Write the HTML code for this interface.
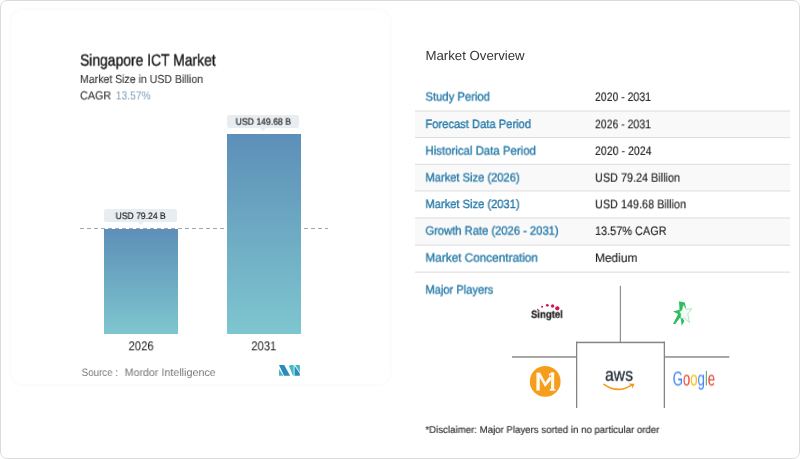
<!DOCTYPE html>
<html>
<head>
<meta charset="utf-8">
<style>
html,body{margin:0;padding:0;}
body{width:800px;height:459px;background:#fff;position:relative;overflow:hidden;font-family:"Liberation Sans",sans-serif;color:#222;}
.frame{position:absolute;left:0;top:0;width:800px;height:459px;box-sizing:border-box;border:1px solid #dbdbdb;border-radius:7px;background:#fff;}
.card{position:absolute;left:11px;top:10px;width:379px;height:374px;border-radius:12px;background:#fff;box-shadow:0 0 4px rgba(0,0,0,0.045);}
.t{position:absolute;white-space:nowrap;line-height:1;transform-origin:0 0;will-change:transform;text-rendering:geometricPrecision;}
.bar{position:absolute;background:linear-gradient(#5d8fb8,#7ec6cf);}
.pill{position:absolute;background:#e7edf1;border-radius:2.5px;}
.pill:after{content:"";position:absolute;left:50%;bottom:-3px;margin-left:-3px;border-left:3px solid transparent;border-right:3px solid transparent;border-top:3px solid #e7edf1;}
.dash{position:absolute;left:80px;top:228px;width:248px;height:1px;background:repeating-linear-gradient(90deg,#98a9b6 0,#98a9b6 4px,transparent 4px,transparent 7px);}
.hl{position:absolute;left:415px;width:375px;height:1px;background:#e0e0e0;}
.st{position:absolute;left:415px;width:375px;background:#f9f9f9;}
.ln{position:absolute;background:#858585;}
</style>
</head>
<body>
<div class="frame"></div>
<div class="card"></div>

<div class="dash"></div>
<div class="bar" style="left:104px;top:229px;width:74px;height:105px;"></div>
<div class="bar" style="left:227px;top:134px;width:74px;height:200px;"></div>
<div class="pill" style="left:104.4px;top:209px;width:72.5px;height:13px;"></div>
<div class="pill" style="left:226.5px;top:114.8px;width:72px;height:13.2px;"></div>

<svg style="position:absolute;left:279px;top:365px;" width="22" height="11" viewBox="0 0 22 11">
<polygon points="0,3.9 0,10.7 4.4,10.7" fill="#45b8c2"/>
<polygon points="0,0 5.2,0 11.1,10.7 5,10.7" fill="#2a8bbd"/>
<polygon points="9.8,0.8 12,0 14.7,0 14.7,10.7 14,10.7" fill="#45bcc0"/>
<polygon points="15.5,0.8 15.5,10.7 20.8,10.7 20.8,8.4" fill="#2a8bbd"/>
<polygon points="16.2,0 20.9,0 20.9,7.4" fill="#45b8c2"/>
</svg>

<div class="st" style="top:111px;height:27px;"></div>
<div class="st" style="top:164px;height:27px;"></div>
<div class="st" style="top:218px;height:27px;"></div>


<svg style="position:absolute;left:0;top:0;" width="800" height="459" viewBox="0 0 800 459">
<g fill="#dfdfdf">
<rect x="415" y="110.5" width="375.3" height="1.1"/>
<rect x="415" y="137.0" width="375.3" height="1.1"/>
<rect x="415" y="163.8" width="375.3" height="1.1"/>
<rect x="415" y="190.4" width="375.3" height="1.1"/>
<rect x="415" y="217.4" width="375.3" height="1.1"/>
<rect x="415" y="244.6" width="375.3" height="1.1"/>
<rect x="415" y="271.6" width="375.3" height="1.1"/>
</g>
<g fill="#848484">
<rect x="619.8" y="285.8" width="1.1" height="56.5"/>
<rect x="576" y="341.7" width="89" height="1.5"/>
<rect x="576" y="341.7" width="1.3" height="66.3"/>
<rect x="663.7" y="341.7" width="1.3" height="66.3"/>
</g>
<g fill="#a3a3a3">
<rect x="512" y="356" width="64" height="1.9"/>
<rect x="665" y="356" width="64.4" height="1.9"/>
</g>
<!-- singtel dots -->
<g fill="#d0174f">
<circle cx="537.7" cy="309.4" r="0.7"/>
<circle cx="542.1" cy="306.8" r="1"/>
<circle cx="547.3" cy="305.3" r="1.4"/>
<circle cx="552.6" cy="306" r="1.7"/>
<circle cx="557.3" cy="308.3" r="2.1"/>
</g>
<!-- starhub -->
<g transform="translate(662,294) scale(0.08282)">
<path d="M205,88 L275,103 L290,170 L250,200 L250,290 L270,330 L237,383 L228,300 L215,290 L160,362 L133,362 L195,240 L133,210 L212,190 Z" fill="#2dbd5f"/>
<path d="M258,128 L292,185 L360,178 L312,240 L332,345 L268,290 L225,300 L228,240 L210,215 L240,195 Z" fill="#f3fbf6" stroke="#4cc878" stroke-width="5" stroke-linejoin="round"/>
</g>
<!-- M1 -->
<g transform="translate(525,362) scale(0.08282)">
<circle cx="244" cy="235" r="186" fill="#f79d1e"/>
<g fill="#fffaf0">
<rect x="138" y="130" width="40" height="215"/>
<polygon points="145,130 184,130 258,268 243,300 226,272"/>
<polygon points="243,300 229,270 296,176 320,190 320,212"/>
<rect x="315" y="128" width="37" height="217"/>
<polygon points="316,128 352,128 352,152 318,152 296,170 284,152"/>
<rect x="298" y="326" width="70" height="19"/>
</g>
</g>
<!-- aws smile -->
<path d="M604,384.4 Q617.5,394 631,385.4" fill="none" stroke="#f59a1b" stroke-width="1.7" stroke-linecap="round"/>
<polygon points="628.5,383.5 634.4,383.8 632.7,388.4 631.5,385.7" fill="#f59a1b"/>
</svg>

<div class="t" style="left:80px;top:51px;font-size:16.3px;color:#1a1a1a;transform:translate3d(0.00px,1.60px,0) scaleX(0.8530);-webkit-text-stroke:0.4px #1a1a1a;">Singapore ICT Market</div>
<div class="t" style="left:80px;top:73px;font-size:11.7px;color:#3c3c3c;transform:translate3d(0.00px,1.00px,0) scaleX(0.9017);-webkit-text-stroke:0.15px #3c3c3c;">Market Size in USD Billion</div>
<div class="t" style="left:80px;top:89px;font-size:11.7px;color:#3c3c3c;transform:translate3d(0.00px,1.40px,0) scaleX(0.9236);-webkit-text-stroke:0.15px #3c3c3c;">CAGR</div>
<div class="t" style="left:115px;top:89px;font-size:11.7px;color:#7a9db8;transform:translate3d(0.80px,1.40px,0) scaleX(0.8804);">13.57%</div>
<div class="t" style="left:115px;top:211px;font-size:9.4px;color:#1c1c1c;transform:translate3d(0.60px,0.00px,0) scaleX(0.9138);-webkit-text-stroke:0.2px #1c1c1c;">USD 79.24 B</div>
<div class="t" style="left:235px;top:116px;font-size:9.4px;color:#1c1c1c;transform:translate3d(0.60px,0.75px,0) scaleX(0.9243);-webkit-text-stroke:0.2px #1c1c1c;">USD 149.68 B</div>
<div class="t" style="left:128px;top:339px;font-size:12.8px;color:#222;transform:translate3d(0.50px,1.30px,0) scaleX(0.8887);">2026</div>
<div class="t" style="left:251px;top:339px;font-size:12.8px;color:#222;transform:translate3d(0.30px,1.30px,0) scaleX(0.8817);">2031</div>
<div class="t" style="left:81px;top:366px;font-size:10.8px;color:#777;transform:translate3d(0.60px,2.00px,0) scaleX(0.9051);">Source :</div>
<div class="t" style="left:124px;top:366px;font-size:10.8px;color:#777;transform:translate3d(0.60px,2.00px,0) scaleX(0.9910);">Mordor Intelligence</div>
<div class="t" style="left:425px;top:48px;font-size:13.1px;color:#333;transform:translate3d(0.40px,1.00px,0) scaleX(1.0098);">Market Overview</div>
<div class="t" style="left:425px;top:424px;font-size:9.9px;color:#2e2e2e;transform:translate3d(0.40px,1.90px,0) scaleX(0.9779);-webkit-text-stroke:0.15px #2e2e2e;">*Disclaimer: Major Players sorted in no particular order</div>
<div class="t" style="left:531px;top:308px;font-size:10.6px;color:#1e1e1e;transform:translate3d(0.00px,1.80px,0) scaleX(0.9001);font-weight:bold;-webkit-text-stroke:0.25px #1e1e1e;">Singtel</div>
<div class="t" style="left:605px;top:365px;font-size:18.1px;color:#252f3e;transform:translate3d(0.00px,0.70px,0) scaleX(0.8668);-webkit-text-stroke:0.3px #252f3e;">aws</div>
<div class="t" style="left:672px;top:368px;font-size:20.2px;color:#4285f4;transform:translate3d(0.70px,1.50px,0) scaleX(0.6494);"><span style="color:#4285f4">G</span><span style="color:#ea4335">o</span><span style="color:#fbbc05">o</span><span style="color:#4285f4">g</span><span style="color:#34a853">l</span><span style="color:#ea4335">e</span></div>
<div class="t" style="left:425px;top:90px;font-size:12px;color:#277aa8;transform:translate3d(0.40px,0.60px,0) scaleX(0.9401);-webkit-text-stroke:0.35px #277aa8;">Study Period</div>
<div class="t" style="left:595px;top:90px;font-size:12.3px;color:#222;transform:translate3d(0.00px,0.90px,0) scaleX(0.8531);-webkit-text-stroke:0.15px #222;">2020 - 2031</div>
<div class="t" style="left:425px;top:117px;font-size:12px;color:#277aa8;transform:translate3d(0.40px,1.00px,0) scaleX(0.9313);-webkit-text-stroke:0.35px #277aa8;">Forecast Data Period</div>
<div class="t" style="left:595px;top:117px;font-size:12.3px;color:#222;transform:translate3d(0.00px,1.30px,0) scaleX(0.8531);-webkit-text-stroke:0.15px #222;">2026 - 2031</div>
<div class="t" style="left:425px;top:144px;font-size:12px;color:#277aa8;transform:translate3d(0.40px,0.60px,0) scaleX(0.9531);-webkit-text-stroke:0.35px #277aa8;">Historical Data Period</div>
<div class="t" style="left:595px;top:144px;font-size:12.3px;color:#222;transform:translate3d(0.00px,0.90px,0) scaleX(0.8623);-webkit-text-stroke:0.15px #222;">2020 - 2024</div>
<div class="t" style="left:425px;top:171px;font-size:12px;color:#277aa8;transform:translate3d(0.40px,0.40px,0) scaleX(0.9292);-webkit-text-stroke:0.35px #277aa8;">Market Size (2026)</div>
<div class="t" style="left:595px;top:171px;font-size:12.3px;color:#222;transform:translate3d(0.00px,0.70px,0) scaleX(0.8818);-webkit-text-stroke:0.15px #222;">USD 79.24 Billion</div>
<div class="t" style="left:425px;top:197px;font-size:12px;color:#277aa8;transform:translate3d(0.40px,1.00px,0) scaleX(0.9292);-webkit-text-stroke:0.35px #277aa8;">Market Size (2031)</div>
<div class="t" style="left:595px;top:197px;font-size:12.3px;color:#222;transform:translate3d(0.00px,1.30px,0) scaleX(0.8816);-webkit-text-stroke:0.15px #222;">USD 149.68 Billion</div>
<div class="t" style="left:425px;top:224px;font-size:12px;color:#277aa8;transform:translate3d(0.40px,0.60px,0) scaleX(0.9331);-webkit-text-stroke:0.35px #277aa8;">Growth Rate (2026 - 2031)</div>
<div class="t" style="left:595px;top:224px;font-size:12.3px;color:#222;transform:translate3d(0.00px,0.90px,0) scaleX(0.8877);-webkit-text-stroke:0.15px #222;">13.57% CAGR</div>
<div class="t" style="left:425px;top:251px;font-size:12px;color:#277aa8;transform:translate3d(0.40px,0.60px,0) scaleX(0.9814);-webkit-text-stroke:0.35px #277aa8;">Market Concentration</div>
<div class="t" style="left:595px;top:251px;font-size:12.3px;color:#222;transform:translate3d(0.00px,0.90px,0) scaleX(0.9691);-webkit-text-stroke:0.15px #222;">Medium</div>
<div class="t" style="left:425px;top:283px;font-size:12px;color:#277aa8;transform:translate3d(0.40px,0.60px,0) scaleX(0.9269);-webkit-text-stroke:0.35px #277aa8;">Major Players</div>
</body>
</html>
